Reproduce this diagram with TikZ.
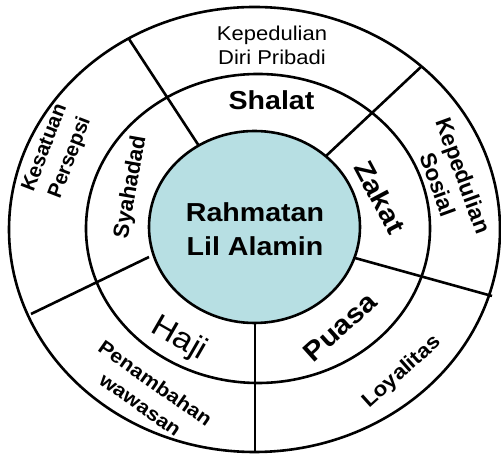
\documentclass[tikz,border=0pt]{standalone}
\usepackage{fontspec}
\setmainfont{Liberation Sans}[FakeStretch=1.1]
\newfontfamily\uprightsans{Liberation Sans}
\usetikzlibrary{positioning}
\definecolor{hubfill}{RGB}{183,223,227}

\begin{document}
\begin{tikzpicture}[x=1pt, y=1pt, line width=2.6pt,
  ringlbl/.style={align=center, inner sep=0pt},
  fsize/.style 2 args={font=\fontsize{#1}{#2}\selectfont\bfseries},
  vsize/.style 2 args={font=\uprightsans\fontsize{#1}{#2}\selectfont\bfseries}]
\useasboundingbox (-255,-225) rectangle (246,229);

% Rings
\draw (-0.5,-0.5) ellipse [x radius=245.5, y radius=222.5];
\draw (3,0.5) ellipse [x radius=172, y radius=154.5];
\filldraw[fill=hubfill] (-0.5,2) ellipse [x radius=105.5, y radius=96];

% Spoke ends
\coordinate (s1in) at (-56,83);   \coordinate (s1out) at (-126,190);
\coordinate (s2in) at (71,73);    \coordinate (s2out) at (167,163);
\coordinate (s3in) at (100,-29);  \coordinate (s3out) at (237,-67);
\coordinate (s4in) at (0,-94);    \coordinate (s4out) at (0,-223);
\coordinate (s5in) at (-106,-28); \coordinate (s5out) at (-224,-85);

% Spokes
\foreach \s in {1,...,5}
  \draw (s\s in) -- (s\s out);

% Hub
\node[ringlbl, fsize={26}{34}] (hub) at (0,0) {Rahmatan\\Lil Alamin};

% Inner ring labels
\node[ringlbl, fsize={26}{28}] (shalat) at (16.5,129) {Shalat};
\node[ringlbl, vsize={22}{24}, rotate=80] (syahadad) at (-124,42) {Syahadad};
\node[ringlbl, fsize={27}{28}, rotate=-62] (zakat) at (125,32) {Zakat};
\node[ringlbl, fsize={27}{28}, rotate=42] (puasa) at (85,-98) {Puasa};
\node[ringlbl, font=\fontsize{31}{34}\selectfont, rotate=-30] (haji) at (-76,-110) {Haji};

% Outer ring labels
\node[ringlbl, font=\fontsize{20}{24}\selectfont] (diri) at (17,184) {Kepedulian\\Diri Pribadi};
\node[ringlbl, vsize={20.5}{27}, rotate=69] (persepsi) at (-197,76) {Kesatuan\\Persepsi};
\node[ringlbl, vsize={22.5}{27}, rotate=-70] (sosial) at (196,49) {Kepedulian\\Sosial};
\node[ringlbl, fsize={20.5}{24}, rotate=42] (loyal) at (147,-143) {Loyalitas};
\node[ringlbl, fsize={19.5}{26}, rotate=-35] (wawasan) at (-107,-165) {Penambahan\\wawasan};
\end{tikzpicture}
\end{document}
